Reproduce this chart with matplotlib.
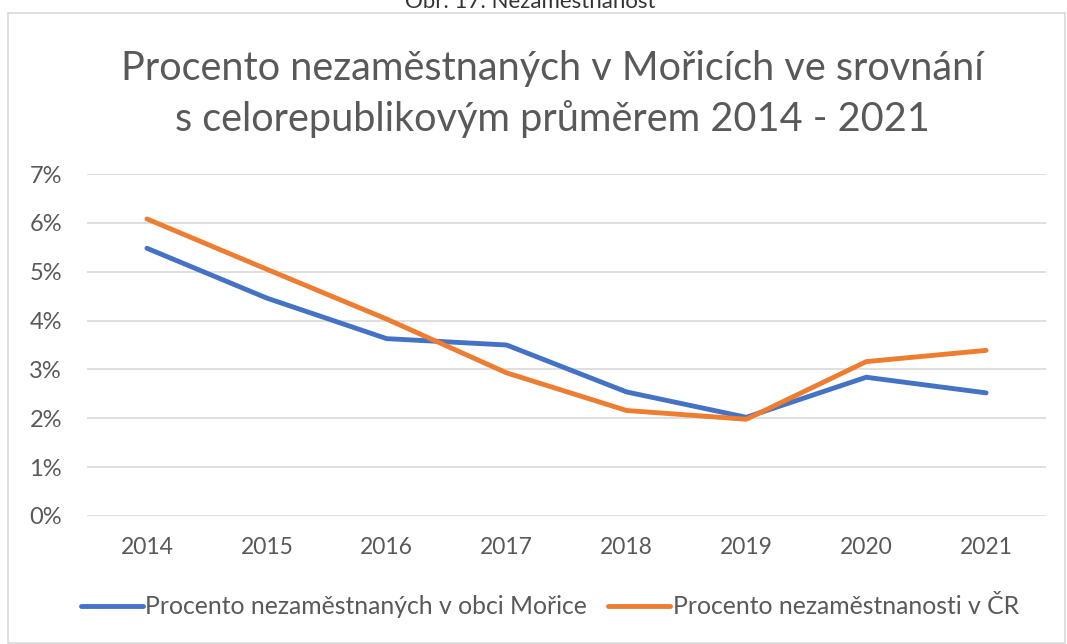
import matplotlib.pyplot as plt
from matplotlib.patches import Rectangle

plt.rcParams['font.family'] = ['Lato', 'DejaVu Sans']

years = ['2014', '2015', '2016', '2017', '2018', '2019', '2020', '2021']
morice = [5.48, 4.46, 3.63, 3.50, 2.54, 2.02, 2.84, 2.52]   # % nezamestnanych v obci Morice
cr = [6.08, 5.05, 4.03, 2.93, 2.16, 1.98, 3.16, 3.39]       # % nezamestnanosti v CR
yticks = [0, 1, 2, 3, 4, 5, 6, 7]

title = 'Procento nezaměstnaných v Mořicích ve srovnání\ns celorepublikovým průměrem 2014 - 2021'
label_morice = 'Procento nezaměstnaných v obci Mořice'
label_cr = 'Procento nezaměstnanosti v ČR'
caption = 'Obr. 17: Nezaměstnanost'

txt = '#595959'
grid = '#D9D9D9'

fig = plt.figure(figsize=(10.67, 6.44), dpi=100)
W, H = 1067, 644

# outer chart frame (Excel style)
fig.patches.append(Rectangle((8 / W, 1 / H), 1057 / W, 630 / H, transform=fig.transFigure,
                             fill=False, edgecolor=grid, linewidth=1.2))
# cut off caption above the chart
fig.text(530 / W, 1 - 8 / H, caption, ha='center', va='baseline', fontsize=16, color='#333333')

ax = fig.add_axes([87 / W, 128 / H, 959 / W, 342 / H])
x = range(len(years))
ax.plot(x, morice, color='#4472C4', linewidth=3.5, label=label_morice, solid_capstyle='round')
ax.plot(x, cr, color='#ED7D31', linewidth=3.5, label=label_cr, solid_capstyle='round')

ax.set_xlim(-0.5, len(years) - 0.5)
ax.set_ylim(0, 7)
ax.set_yticks(yticks)
ax.set_yticklabels(['{0}%'.format(v) for v in yticks])
ax.set_xticks(list(x))
ax.set_xticklabels(years)
ax.tick_params(axis='both', length=0, labelcolor=txt)
ax.tick_params(axis='y', pad=18, labelsize=17)
ax.tick_params(axis='x', pad=15, labelsize=16.5)
ax.grid(axis='y', color=grid, linewidth=1.2)
ax.set_axisbelow(True)
for s in ax.spines.values():
    s.set_visible(False)

fig.text(552 / W, 1 - 94 / H, title, ha='center', va='center', fontsize=28.5, color=txt,
         linespacing=1.42)

fig.legend(loc='center', bbox_to_anchor=(550 / W, 1 - 607 / H), ncol=2, frameon=False,
           fontsize=17.8, labelcolor=txt, handlelength=2.5, handletextpad=0.12,
           columnspacing=0.85)

fig.savefig('out.png', dpi=100)
